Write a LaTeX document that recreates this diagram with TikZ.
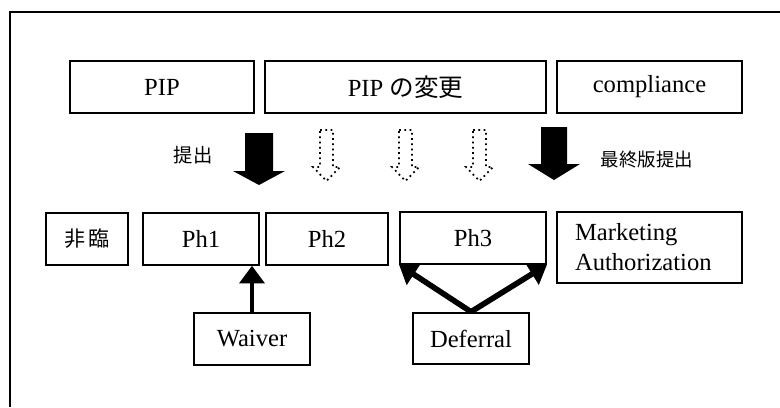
\documentclass[tikz,border=0pt]{standalone}
\usepackage{fontspec}
\setmainfont{Liberation Serif}
\newfontfamily\jp{Noto Sans CJK JP}
\usetikzlibrary{arrows.meta}
\newcommand{\downblock}[6]{(#1-#5,#2) -- (#1+#5,#2) -- (#1+#5,#3) -- (#1+#6,#3) -- (#1,#4) -- (#1-#6,#3) -- (#1-#5,#3) -- cycle}

\begin{document}
\begin{tikzpicture}[x=0.02cm,y=-0.02cm,font=\fontsize{14}{17}\selectfont,line join=miter,
  box/.style={draw,line width=1.1pt,minimum height=1.03cm,inner sep=0pt},
  up/.style={line width=2.8pt,-{Triangle[length=10pt,width=14pt]}}]
\useasboundingbox (0,0) rectangle (780,407);
\draw[line width=1.1pt] (10,407) -- (10,12) -- (780,12);
\node[box,minimum width=3.68cm] (pip) at (162,87) {PIP};
\node[box,minimum width=5.62cm] (chg) at (405.5,87) {PIP {\jp の変更}};
\node[box,minimum width=3.70cm] (comp) at (649.5,87) {compliance};
\node[box,minimum width=1.64cm] (pre) at (87,239) {\jp\fontsize{12}{14}\selectfont 非\,臨};
\node[box,minimum width=2.32cm] (ph1) at (201,239) {Ph1};
\node[box,minimum width=2.44cm] (ph2) at (327,239) {Ph2};
\node[box,minimum width=2.92cm] (ph3) at (473,238) {Ph3};
\node[box,minimum height=1.42cm,text width=2.98cm,inner xsep=0.36cm,align=left] (ma) at (649.5,247.5) {Marketing\\Authorization};
\node[box,minimum width=2.32cm] (wv) at (252,339) {Waiver};
\node[box,minimum width=2.32cm] (df) at (471,338.5) {Deferral};
\fill \downblock{259}{133}{171}{185}{14}{26};
\fill \downblock{554}{127}{164}{180}{13}{26};
\foreach \cx in {326.5,405.5,479.5}
  \draw[dotted,line width=1pt] \downblock{\cx}{130}{167}{181}{6.5}{13.5};
\node[font=\jp\fontsize{11}{13}\selectfont] (sub) at (193,155) {提出};
\node[font=\jp\fontsize{10.5}{13}\selectfont] (fin) at (647,160) {最終版提出};
\draw[up] (wv.north) -- (wv.north |- ph1.south);
\draw[up,line width=3.2pt] (df.north) -- (ph3.south west);
\draw[up,line width=3.2pt] (df.north) -- (ph3.south east);
\end{tikzpicture}
\end{document}
